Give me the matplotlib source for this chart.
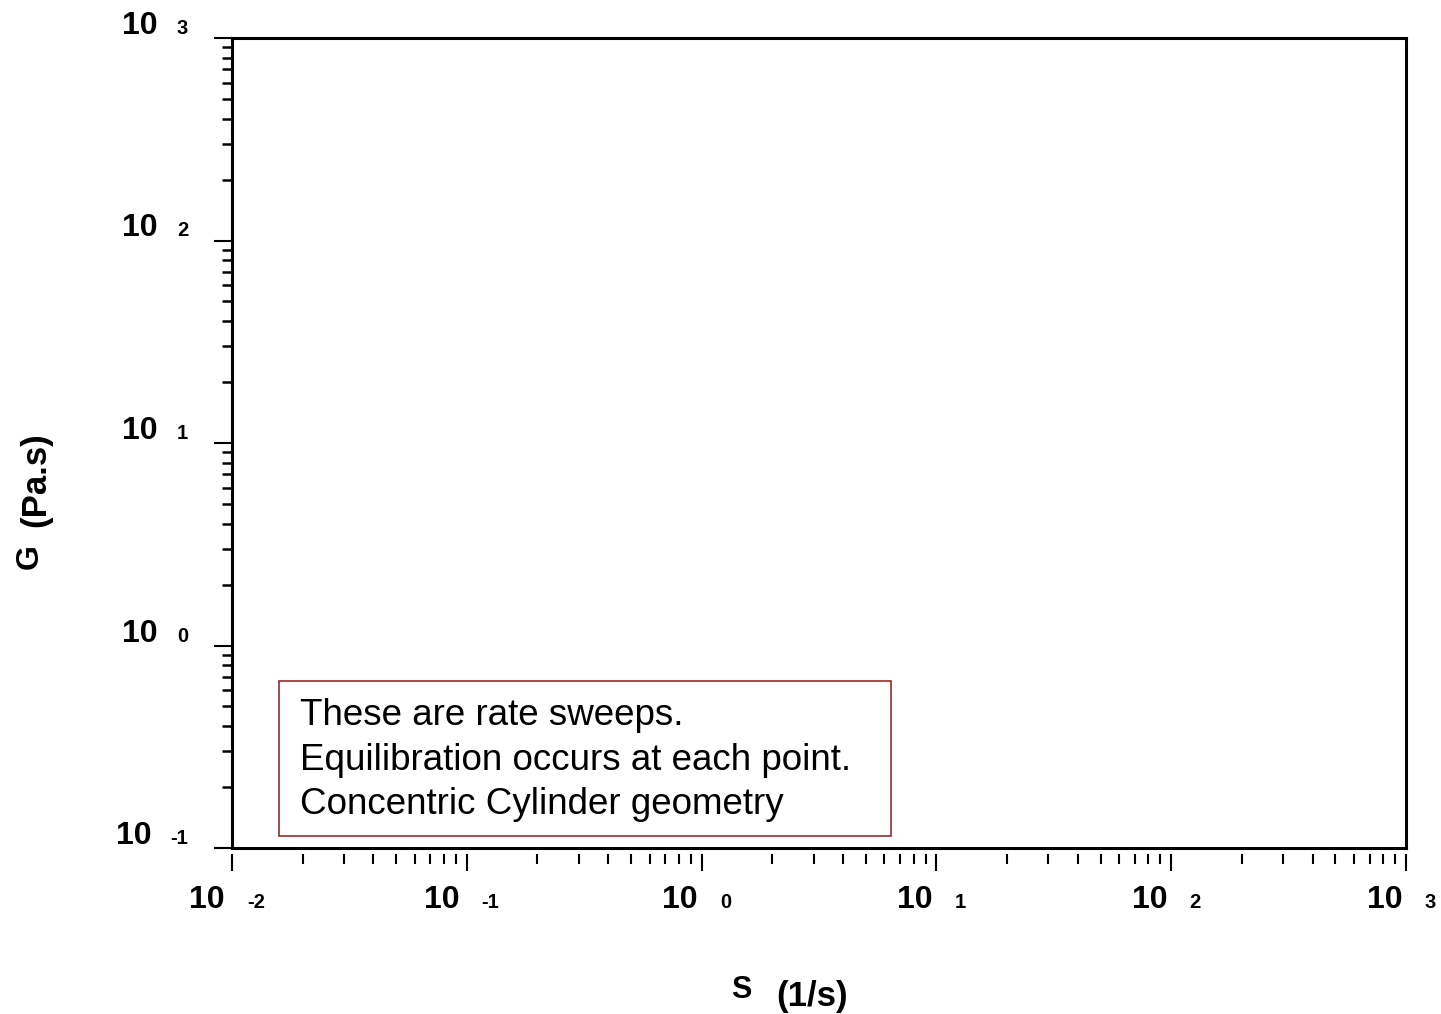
import numpy as np
import matplotlib
matplotlib.use("Agg")
import matplotlib.pyplot as plt
from matplotlib.ticker import LogLocator, NullFormatter
from matplotlib.patches import Rectangle

plt.rcParams['font.family'] = ['Liberation Sans', 'DejaVu Sans']

# axis ranges (powers of ten)
x_exponents = [-2, -1, 0, 1, 2, 3]
y_exponents = [-1, 0, 1, 2, 3]
x_label_symbol, x_label_unit = "S", "(1/s)"
y_label_symbol, y_label_unit = "G", "(Pa.s)"
note_lines = [
    "These are rate sweeps.",
    "Equilibration occurs at each point.",
    "Concentric Cylinder geometry",
]

W, H = 1441, 1014
fig = plt.figure(figsize=(W / 100, H / 100), dpi=100)
ax = fig.add_axes([232 / W, (H - 848) / H, 1174 / W, 810 / H])
ax.set_xscale('log')
ax.set_yscale('log')
ax.set_xlim(10.0 ** x_exponents[0], 10.0 ** x_exponents[-1])
ax.set_ylim(10.0 ** y_exponents[0], 10.0 ** y_exponents[-1])

frame_lw = 2.2
for side in ['top', 'right', 'left']:
    ax.spines[side].set_linewidth(frame_lw)
# bottom ticks sit a little below the frame on a hidden spine
ax.spines['bottom'].set_position(('outward', 4.0))
ax.spines['bottom'].set_visible(False)
ax.plot([0, 1], [0, 0], transform=ax.transAxes, color='black', lw=frame_lw,
        clip_on=False, solid_capstyle='projecting', zorder=5)

for axis in (ax.xaxis, ax.yaxis):
    axis.set_major_locator(LogLocator(base=10, numticks=20))
    axis.set_minor_locator(LogLocator(base=10, subs=np.arange(2, 10), numticks=200))
    axis.set_minor_formatter(NullFormatter())

ax.tick_params(axis='x', which='major', direction='out', length=12.3, width=1.5,
               labelbottom=False, top=False)
ax.tick_params(axis='x', which='minor', direction='out', length=7.2, width=1.5, top=False)
ax.tick_params(axis='y', which='major', direction='out', length=13.0, width=1.5,
               labelleft=False, right=False)
ax.tick_params(axis='y', which='minor', direction='out', length=7.2, width=1.8, right=False)

big_fs, small_fs = 23, 14.5
bold = dict(fontweight='bold', color='black')

x_pairs = []
for e in x_exponents:
    t10 = ax.annotate("10", xy=(10.0 ** e, 0), xycoords=ax.get_xaxis_transform(),
                      xytext=(0, -60), textcoords='offset pixels',
                      ha='left', va='baseline', fontsize=big_fs, **bold)
    tex = ax.annotate(str(e), xy=(10.0 ** e, 0), xycoords=ax.get_xaxis_transform(),
                      xytext=(0, -60), textcoords='offset pixels',
                      ha='left', va='baseline', fontsize=small_fs, **bold)
    x_pairs.append((t10, tex))

y_pairs = []
for e in y_exponents:
    t10 = ax.annotate("10", xy=(0, 10.0 ** e), xycoords=ax.get_yaxis_transform(),
                      xytext=(0, 4), textcoords='offset pixels',
                      ha='left', va='baseline', fontsize=big_fs, **bold)
    tex = ax.annotate(str(e), xy=(0, 10.0 ** e), xycoords=ax.get_yaxis_transform(),
                      xytext=(0, 4), textcoords='offset pixels',
                      ha='left', va='baseline', fontsize=small_fs, **bold)
    y_pairs.append((t10, tex))

fig.canvas.draw()
r = fig.canvas.get_renderer()
gap_x, gap_y = 22, 19
for t10, tex in x_pairs:
    w10 = t10.get_window_extent(r).width
    wex = tex.get_window_extent(r).width
    total = w10 + gap_x + wex
    left = -5 - total / 2
    t10.xyann = (left, -60)
    tex.xyann = (left + w10 + gap_x, -60)
for t10, tex in y_pairs:
    w10 = t10.get_window_extent(r).width
    wex = tex.get_window_extent(r).width
    right = -44
    tex.xyann = (right - wex, 4)
    t10.xyann = (right - wex - gap_y - w10, 4)

# axis titles
fig.text(731 / W, (H - 998) / H, x_label_symbol, fontsize=22, ha='left', va='baseline', **bold)
fig.text(776 / W, (H - 1006) / H, x_label_unit, fontsize=25, ha='left', va='baseline', **bold)
fig.text(38 / W, (H - 569) / H, y_label_symbol, fontsize=23, rotation=90,
         rotation_mode='anchor', ha='left', va='baseline', **bold)
fig.text(45 / W, (H - 527) / H, y_label_unit, fontsize=25, rotation=90,
         rotation_mode='anchor', ha='left', va='baseline', **bold)

# annotation box
box = Rectangle((0.040, 0.0148), 0.5217, 0.1914, transform=ax.transAxes,
                facecolor='white', edgecolor='#8B1A1A', lw=1.1, zorder=4)
ax.add_patch(box)
for i, line in enumerate(note_lines):
    ax.text(0.0575, (848 - 725 - 44.5 * i) / 810, line, transform=ax.transAxes,
            fontsize=26.5, ha='left', va='baseline', color='black', zorder=6)

fig.savefig("out.png", dpi=100)
